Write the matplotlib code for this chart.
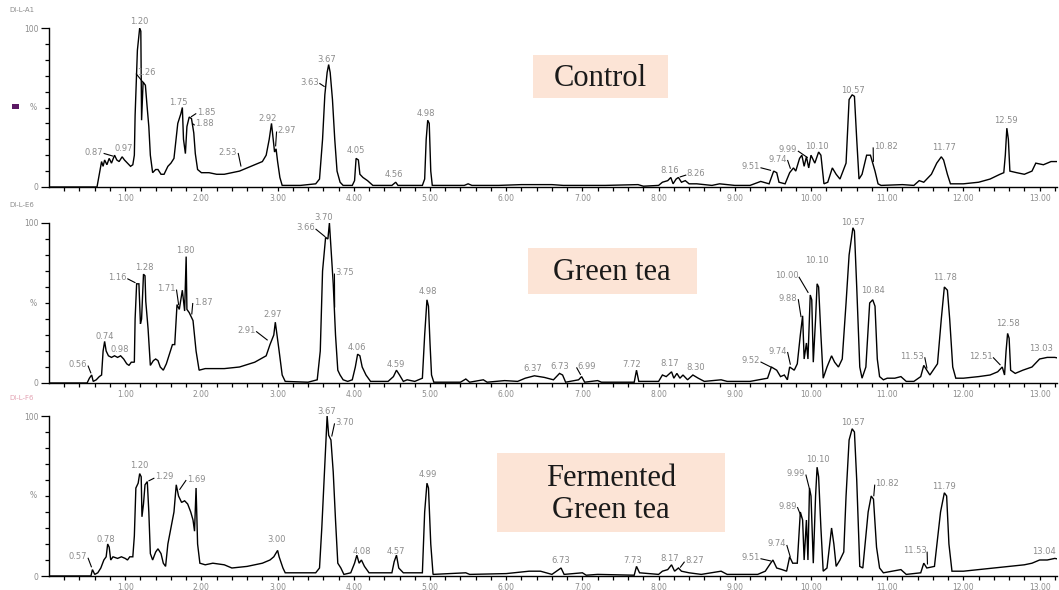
import numpy as np
import matplotlib
matplotlib.use("Agg")
import matplotlib.pyplot as plt
from matplotlib.patches import Rectangle

# ---------------------------------------------------------------------------
# Total ion chromatograms: (retention time [min], relative intensity [%])
# ---------------------------------------------------------------------------
control_trace = [
    (0.00, 0), (0.63, 0), (0.66, 8), (0.69, 16), (0.71, 13), (0.73, 17), (0.76, 14),
    (0.79, 18), (0.82, 15), (0.86, 20), (0.89, 17), (0.92, 16), (0.96, 19), (0.99, 17),
    (1.03, 15), (1.07, 13), (1.10, 14), (1.12, 20), (1.13, 45), (1.16, 86), (1.19, 100),
    (1.205, 98), (1.215, 42), (1.235, 66), (1.265, 64), (1.285, 52), (1.31, 38),
    (1.33, 20), (1.36, 9), (1.40, 11), (1.43, 11), (1.47, 8), (1.51, 8), (1.56, 13),
    (1.60, 15), (1.64, 18), (1.69, 40), (1.73, 46), (1.75, 50), (1.765, 30), (1.79, 21),
    (1.81, 38), (1.84, 44), (1.87, 43), (1.90, 34), (1.92, 21), (1.95, 11), (2.00, 9),
    (2.10, 9), (2.20, 8), (2.30, 8), (2.40, 9), (2.50, 10), (2.60, 12), (2.70, 14),
    (2.80, 16), (2.85, 20), (2.89, 30), (2.92, 40), (2.94, 31), (2.96, 22), (2.98, 24),
    (3.00, 16), (3.03, 6), (3.06, 1), (3.30, 1), (3.50, 2), (3.55, 5), (3.59, 30),
    (3.62, 58), (3.65, 72), (3.67, 77), (3.69, 72), (3.72, 55), (3.75, 30), (3.78, 10),
    (3.82, 3), (3.86, 1), (3.98, 1), (4.01, 4), (4.03, 18), (4.06, 17), (4.08, 8),
    (4.12, 6), (4.18, 4), (4.25, 1), (4.50, 1), (4.55, 3), (4.58, 1), (4.90, 1),
    (4.93, 5), (4.95, 30), (4.97, 42), (4.99, 40), (5.01, 10), (5.03, 1), (5.45, 1),
    (5.50, 2), (5.55, 1), (5.90, 1), (6.20, 1.5), (6.60, 1.5), (6.75, 1), (7.30, 1),
    (7.73, 1.5), (7.80, 0.5), (8.00, 1), (8.05, 3), (8.12, 4), (8.16, 6), (8.19, 2),
    (8.23, 5), (8.26, 6), (8.30, 3), (8.35, 4), (8.40, 2), (8.50, 2), (8.70, 1),
    (8.80, 2), (9.00, 1), (9.20, 1), (9.34, 3.5), (9.45, 2), (9.51, 10), (9.55, 9),
    (9.58, 3), (9.66, 2), (9.72, 9), (9.77, 12), (9.80, 10), (9.85, 18), (9.88, 20),
    (9.91, 13), (9.94, 19), (9.97, 12), (10.00, 20), (10.05, 15), (10.10, 22),
    (10.13, 20), (10.17, 2), (10.22, 3), (10.28, 12), (10.33, 8), (10.38, 5),
    (10.46, 15), (10.50, 55), (10.54, 58), (10.57, 57), (10.60, 30), (10.63, 5),
    (10.67, 8), (10.73, 20), (10.78, 20), (10.84, 10), (10.88, 2), (10.92, 1),
    (11.20, 1.5), (11.35, 1), (11.42, 4), (11.48, 3), (11.58, 8), (11.65, 15),
    (11.71, 19), (11.74, 17), (11.79, 8), (11.83, 2), (12.00, 2), (12.20, 3),
    (12.35, 5), (12.48, 8), (12.53, 9), (12.55, 20), (12.57, 37), (12.59, 30),
    (12.61, 10), (12.70, 9), (12.80, 8), (12.90, 10), (12.95, 15), (13.05, 14),
    (13.15, 16), (13.30, 16),
]

green_tea_trace = [
    (0.00, 0), (0.50, 0), (0.53, 3), (0.56, 5), (0.58, 1), (0.62, 2), (0.66, 4),
    (0.69, 5), (0.71, 20), (0.73, 26), (0.75, 20), (0.78, 17), (0.82, 16), (0.86, 17),
    (0.90, 16), (0.94, 17), (0.98, 15), (1.02, 12), (1.05, 11), (1.08, 13), (1.12, 13),
    (1.13, 40), (1.15, 62), (1.18, 62), (1.20, 37), (1.215, 40), (1.24, 68), (1.26, 67),
    (1.27, 51), (1.30, 34), (1.33, 11), (1.37, 14), (1.40, 15), (1.43, 14), (1.46, 10),
    (1.50, 8), (1.54, 12), (1.58, 18), (1.62, 24), (1.65, 24), (1.68, 49), (1.71, 46),
    (1.75, 58), (1.78, 45), (1.80, 79), (1.81, 46), (1.84, 44), (1.89, 39), (1.93, 20),
    (1.97, 8), (2.05, 9), (2.30, 9), (2.50, 10), (2.70, 13), (2.85, 17), (2.90, 24),
    (2.95, 30), (2.97, 38), (2.99, 31), (3.02, 20), (3.06, 5), (3.10, 1), (3.40, 0.5),
    (3.52, 2), (3.56, 20), (3.59, 70), (3.63, 91), (3.66, 90), (3.68, 100), (3.70, 85),
    (3.73, 62), (3.76, 30), (3.79, 8), (3.82, 5), (3.86, 2), (3.92, 1), (3.98, 2),
    (4.02, 10), (4.05, 18), (4.08, 17), (4.11, 10), (4.16, 5), (4.22, 1), (4.45, 1),
    (4.52, 4), (4.56, 8), (4.60, 5), (4.65, 1), (4.70, 2), (4.80, 1), (4.90, 3),
    (4.93, 30), (4.96, 52), (4.98, 48), (5.00, 25), (5.02, 5), (5.05, 0.5), (5.40, 0.5),
    (5.47, 2.5), (5.52, 0.5), (5.70, 2), (5.75, 0.5), (5.98, 1.5), (6.15, 1), (6.25, 3),
    (6.37, 4.5), (6.50, 3.5), (6.62, 2), (6.70, 6), (6.74, 5), (6.78, 0.5), (6.95, 2),
    (6.99, 4), (7.03, 0.5), (7.20, 1.5), (7.25, 0.5), (7.68, 0.5), (7.71, 8), (7.74, 1),
    (8.00, 1), (8.05, 5), (8.10, 4), (8.17, 7), (8.20, 3), (8.24, 6), (8.28, 3),
    (8.32, 5), (8.38, 2), (8.45, 5), (8.52, 3), (8.60, 1), (8.82, 2), (8.90, 1),
    (9.20, 1), (9.43, 3), (9.48, 10), (9.55, 8), (9.60, 4), (9.65, 5), (9.69, 2),
    (9.72, 10), (9.78, 8), (9.82, 12), (9.86, 30), (9.89, 42), (9.91, 15), (9.94, 25),
    (9.96, 15), (9.99, 55), (10.01, 52), (10.03, 13), (10.06, 40), (10.08, 62),
    (10.10, 60), (10.13, 30), (10.16, 3), (10.21, 10), (10.27, 17), (10.31, 13),
    (10.36, 10), (10.41, 15), (10.46, 50), (10.50, 80), (10.55, 97), (10.57, 95),
    (10.60, 60), (10.64, 10), (10.67, 3), (10.72, 10), (10.77, 50), (10.81, 52),
    (10.84, 48), (10.87, 15), (10.90, 4), (10.95, 2), (11.00, 3), (11.10, 3),
    (11.18, 4), (11.25, 1), (11.35, 1), (11.44, 4), (11.48, 11), (11.52, 8),
    (11.56, 5), (11.66, 12), (11.71, 40), (11.75, 60), (11.79, 58), (11.82, 40),
    (11.86, 10), (11.90, 3), (12.00, 3), (12.20, 4), (12.35, 5), (12.45, 7),
    (12.51, 10), (12.54, 5), (12.56, 20), (12.58, 31), (12.60, 28), (12.62, 8),
    (12.68, 6), (12.78, 8), (12.90, 10), (13.00, 15), (13.10, 16), (13.20, 16),
    (13.30, 15),
]

fermented_trace = [
    (0.00, 0), (0.55, 0), (0.57, 4), (0.60, 1), (0.64, 2), (0.68, 5), (0.72, 10),
    (0.75, 12), (0.77, 20), (0.79, 18), (0.81, 10), (0.84, 12), (0.90, 11), (0.95, 12),
    (1.00, 11), (1.03, 10), (1.06, 12), (1.10, 12), (1.12, 25), (1.14, 55), (1.17, 58),
    (1.19, 64), (1.21, 62), (1.22, 37), (1.24, 45), (1.26, 57), (1.29, 59), (1.31, 40),
    (1.33, 14), (1.36, 10), (1.40, 15), (1.43, 17), (1.47, 14), (1.50, 8), (1.53, 6),
    (1.56, 20), (1.60, 30), (1.64, 40), (1.67, 57), (1.70, 50), (1.74, 46), (1.78, 47),
    (1.82, 45), (1.86, 40), (1.89, 35), (1.91, 28), (1.93, 55), (1.95, 20), (1.98, 8),
    (2.05, 7), (2.15, 8), (2.30, 7), (2.40, 5), (2.60, 6), (2.80, 8), (2.90, 10),
    (2.95, 12), (3.00, 16), (3.02, 12), (3.07, 5), (3.10, 2), (3.50, 2), (3.55, 5),
    (3.58, 30), (3.62, 70), (3.65, 100), (3.67, 88), (3.70, 85), (3.73, 65), (3.76, 35),
    (3.79, 8), (3.83, 5), (3.87, 1), (3.96, 2), (4.01, 8), (4.04, 13), (4.07, 8),
    (4.10, 10), (4.14, 6), (4.20, 2), (4.50, 2), (4.53, 9), (4.56, 13), (4.59, 5),
    (4.65, 2), (4.90, 2), (4.93, 40), (4.96, 58), (4.98, 55), (5.01, 20), (5.04, 1),
    (5.47, 2), (5.52, 1), (6.00, 1.5), (6.30, 3), (6.45, 3), (6.60, 1), (6.72, 5),
    (6.76, 1), (7.00, 2), (7.05, 0.5), (7.20, 1), (7.68, 0.5), (7.71, 6), (7.75, 2),
    (8.00, 1), (8.05, 3), (8.12, 4), (8.17, 7), (8.21, 3), (8.26, 5), (8.30, 3),
    (8.40, 2), (8.56, 1), (8.82, 3), (8.90, 1), (9.30, 1), (9.40, 3), (9.47, 8),
    (9.50, 10), (9.55, 5), (9.62, 4), (9.68, 3), (9.72, 12), (9.76, 8), (9.82, 8),
    (9.86, 40), (9.89, 35), (9.91, 10), (9.94, 35), (9.96, 10), (9.98, 55), (10.00, 50),
    (10.03, 8), (10.06, 50), (10.08, 68), (10.10, 62), (10.13, 30), (10.16, 3),
    (10.21, 5), (10.27, 30), (10.30, 20), (10.33, 6), (10.38, 10), (10.43, 15),
    (10.46, 50), (10.50, 85), (10.54, 92), (10.57, 90), (10.60, 60), (10.64, 6),
    (10.68, 5), (10.75, 40), (10.79, 50), (10.82, 48), (10.86, 18), (10.90, 5),
    (10.95, 2), (11.18, 4), (11.25, 1), (11.44, 2), (11.48, 8), (11.52, 5), (11.62, 6),
    (11.70, 40), (11.75, 52), (11.78, 50), (11.81, 20), (11.85, 3), (12.00, 3),
    (12.20, 4), (12.40, 5), (12.60, 6), (12.80, 7), (12.90, 8), (13.00, 10),
    (13.10, 10), (13.20, 11), (13.30, 10),
]

# Peak annotations: retention-time labels
control_peaks = ["0.87", "0.97", "1.20", "1.26", "1.75", "1.85", "1.88", "2.53", "2.92",
                 "2.97", "3.63", "3.67", "4.05", "4.56", "4.98", "8.16", "8.26", "9.51",
                 "9.74", "9.99", "10.10", "10.57", "10.82", "11.77", "12.59"]
green_tea_peaks = ["0.56", "0.74", "0.98", "1.16", "1.28", "1.71", "1.80", "1.87", "2.91",
                   "2.97", "3.66", "3.70", "3.75", "4.06", "4.59", "4.98", "6.37", "6.73",
                   "6.99", "7.72", "8.17", "8.30", "9.52", "9.74", "9.88", "10.00", "10.10",
                   "10.57", "10.84", "11.53", "11.78", "12.51", "12.58", "13.03"]
fermented_peaks = ["0.57", "0.78", "1.20", "1.29", "1.69", "3.00", "3.67", "3.70", "4.08",
                   "4.57", "4.99", "6.73", "7.73", "8.17", "8.27", "9.51", "9.74", "9.89",
                   "9.99", "10.10", "10.57", "10.82", "11.53", "11.79", "13.04"]

sample_names = ["Control", "Green tea", "Fermented\nGreen tea"]
run_ids = ["DI-L-A1", "DI-L-E6", "DI-L-F6"]
x_ticks = list(range(1, 14))
x_tick_labels = [f"{v:.2f}" for v in x_ticks]

# ---------------------------------------------------------------------------
# Layout (pixel geometry of the 1059 x 590 canvas)
# ---------------------------------------------------------------------------
W, H = 1059, 590
X0_PX, X1_PX, PX_PER_MIN = 49, 1057, 76.2
panel_rows = [(187, 28), (383, 223), (576, 416)]   # (y of 0 %, y of 100 %)

# label text positions (time, intensity) and whether a leader line is drawn
label_layout = [
    [(0.59, 22, 1), (0.98, 24, 0), (1.19, 104, 0), (1.28, 72, 1), (1.70, 53, 0),
     (2.06, 47, 1), (2.04, 40, 1), (2.35, 22, 1), (2.87, 43, 0), (3.12, 35.5, 1),
     (3.42, 66, 1), (3.65, 80, 0), (4.03, 23, 0), (4.53, 8, 0), (4.95, 46, 0),
     (8.14, 10.5, 0), (8.49, 8.4, 1), (9.21, 13, 1), (9.56, 17.6, 1), (9.70, 23.4, 1),
     (10.08, 25.5, 0), (10.55, 61, 0), (10.98, 25.5, 1), (11.74, 25, 0), (12.56, 41.6, 0)],
    [(0.38, 11.5, 1), (0.73, 29, 0), (0.93, 21, 0), (0.90, 66, 1), (1.25, 72, 0),
     (1.54, 59, 1), (1.79, 83, 0), (2.02, 50.6, 1), (2.59, 33, 1), (2.94, 42.7, 0),
     (3.37, 97, 1), (3.61, 103.5, 0), (3.88, 69, 1), (4.04, 22, 0), (4.55, 11.5, 0),
     (4.97, 57, 0), (6.35, 9, 0), (6.70, 10.4, 0), (7.06, 10.4, 1), (7.64, 11.5, 0),
     (8.14, 12.5, 0), (8.49, 10, 0), (9.21, 14, 1), (9.56, 20, 1), (9.70, 53, 1),
     (9.68, 67, 1), (10.08, 76.5, 0), (10.55, 100.6, 0), (10.81, 57.7, 0),
     (11.33, 16.7, 1), (11.76, 66, 0), (12.23, 16.7, 1), (12.58, 37.5, 0), (13.02, 21.5, 0)],
    [(0.38, 12, 1), (0.75, 23, 0), (1.185, 69, 0), (1.51, 62, 1), (1.93, 60.6, 1),
     (2.98, 22.5, 0), (3.64, 103, 0), (3.88, 96, 1), (4.10, 15.2, 0), (4.55, 15.2, 0),
     (4.97, 63.5, 0), (6.72, 9.6, 0), (7.66, 9.6, 0), (8.14, 11, 0), (8.47, 9.6, 1),
     (9.21, 11.7, 1), (9.55, 20, 1), (9.69, 43.7, 1), (9.80, 64, 1), (10.09, 72.5, 0),
     (10.55, 95.8, 0), (11.0, 57.7, 1), (11.36, 15.8, 1), (11.75, 56, 0), (13.06, 15.2, 0)],
]

# name boxes: (left, top, right, bottom) in pixels, text line centres
box_layout = [((533, 55, 668, 98), [(600, 78)]),
              ((528, 248, 697, 294), [(612, 272)]),
              ((497, 453, 725, 532), [(611, 478), (611, 510)])]

GREY = "#8c8c8c"
BOX_COLOR = "#fce4d6"
SERIF = ["Liberation Serif", "DejaVu Serif"]

fig = plt.figure(figsize=(W / 100, H / 100), dpi=100)
fig.patch.set_facecolor("white")

traces = [control_trace, green_tea_trace, fermented_trace]
peak_sets = [control_peaks, green_tea_peaks, fermented_peaks]
id_colors = [GREY, GREY, "#e3a2b2"]

x_max = (X1_PX - X0_PX) / PX_PER_MIN

for i, (trace, peaks) in enumerate(zip(traces, peak_sets)):
    y0, y100 = panel_rows[i]
    ax = fig.add_axes([X0_PX / W, 1 - y0 / H, (X1_PX - X0_PX) / W, (y0 - y100) / H])
    ax.patch.set_visible(False)
    rt, pct = np.array(trace).T
    ax.plot(rt, pct, color="black", lw=1.0, solid_joinstyle="miter")
    ax.set_xlim(0, x_max)
    ax.set_ylim(0, 100)

    for side in ("top", "right"):
        ax.spines[side].set_visible(False)
    for side in ("left", "bottom"):
        ax.spines[side].set_linewidth(1.0)

    ax.set_xticks(x_ticks)
    ax.set_xticklabels(x_tick_labels)
    ax.set_xticks(np.arange(0.2, x_max, 0.2), minor=True)
    ax.tick_params(axis="x", which="both", direction="out", length=3.2, width=0.9,
                   labelsize=5.5, labelcolor=GREY, pad=1.5)
    ax.set_yticks([0, 100])
    ax.set_yticklabels(["0", "100"])
    ax.set_yticks(np.arange(10, 100, 10), minor=True)
    ax.tick_params(axis="y", which="major", length=6, width=0.9, labelsize=5.5,
                   labelcolor=GREY, pad=1.5)
    ax.tick_params(axis="y", which="minor", length=3, width=0.9)
    ax.text(-0.012, 50, "%", transform=ax.get_yaxis_transform(), ha="right",
            va="center", fontsize=5.5, color=GREY)

    # peak labels with short leader lines
    for name, (tx, ty, lead) in zip(peaks, label_layout[i]):
        ax.text(tx, ty, name, ha="center", va="center", fontsize=6, color=GREY,
                clip_on=False)
        if lead:
            pt = float(name)
            py = np.interp(pt, rt, pct)
            P = ax.transData.transform((pt, py))
            T = ax.transData.transform((tx, ty))
            half = 2.3 * len(name) + 1.0
            sgn = 1 if P[0] > T[0] else -1
            E = T + np.array([sgn * half, -1.5])
            end = E + (P - E) * 0.75
            inv = ax.transData.inverted()
            a = inv.transform(E)
            b = inv.transform(end)
            ax.plot([a[0], b[0]], [a[1], b[1]], color="black", lw=0.8, clip_on=False)

    fig.text(9 / W, 1 - (y100 - 18) / H, run_ids[i], fontsize=5, color=id_colors[i],
             ha="left", va="center")

    (l, t, r, b), lines = box_layout[i]
    fig.patches.append(Rectangle((l / W, 1 - b / H), (r - l) / W, (b - t) / H,
                                 transform=fig.transFigure, facecolor=BOX_COLOR,
                                 edgecolor="none", zorder=-1))
    for line_text, (cx, cy) in zip(sample_names[i].split("\n"), lines):
        fig.text(cx / W, 1 - cy / H, line_text, family=SERIF, fontsize=22,
                 ha="center", va="center", color="#1a1a1a")

# small instrument marker next to the first panel
fig.patches.append(Rectangle((12 / W, 1 - 109 / H), 7 / W, 5 / H,
                             transform=fig.transFigure, facecolor="#5b1863",
                             edgecolor="none"))

fig.savefig("out.png", dpi=100)
